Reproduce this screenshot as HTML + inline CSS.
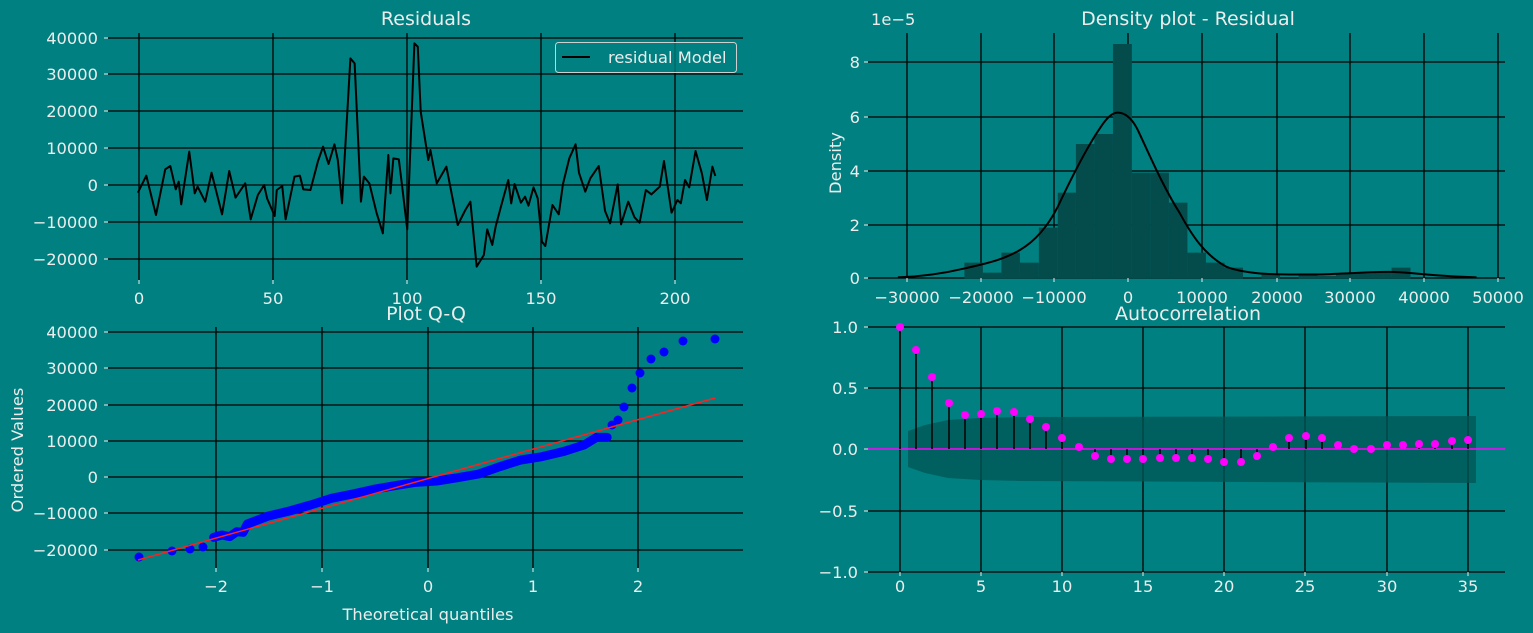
<!DOCTYPE html>
<html><head><meta charset="utf-8"><style>
html,body{margin:0;padding:0;background:#008080;}
svg{display:block;font-family:"DejaVu Sans","Liberation Sans",sans-serif;}
text{fill:#ececec;font-size:16.3px;}
.t{font-size:19px;}
.g{stroke:#000;stroke-width:1.3;}
.tk{stroke:#ececec;stroke-width:1;}
</style></head><body>
<svg width="1533" height="633" viewBox="0 0 1533 633">
<rect width="1533" height="633" fill="#008080"/>

<!-- ========== Residuals ========== -->
<g class="g">
<line x1="108" x2="743" y1="38" y2="38"/><line x1="108" x2="743" y1="74" y2="74"/><line x1="108" x2="743" y1="111" y2="111"/><line x1="108" x2="743" y1="148" y2="148"/><line x1="108" x2="743" y1="185" y2="185"/><line x1="108" x2="743" y1="222" y2="222"/><line x1="108" x2="743" y1="259" y2="259"/>
<line x1="139" x2="139" y1="33" y2="280"/><line x1="273" x2="273" y1="33" y2="280"/><line x1="407" x2="407" y1="33" y2="280"/><line x1="541" x2="541" y1="33" y2="280"/><line x1="675" x2="675" y1="33" y2="280"/>
</g>
<g class="tk">
<line x1="104" x2="108" y1="38" y2="38"/><line x1="104" x2="108" y1="74" y2="74"/><line x1="104" x2="108" y1="111" y2="111"/><line x1="104" x2="108" y1="148" y2="148"/><line x1="104" x2="108" y1="185" y2="185"/><line x1="104" x2="108" y1="222" y2="222"/><line x1="104" x2="108" y1="259" y2="259"/>
<line x1="139" x2="139" y1="280" y2="284"/><line x1="273" x2="273" y1="280" y2="284"/><line x1="407" x2="407" y1="280" y2="284"/><line x1="541" x2="541" y1="280" y2="284"/><line x1="675" x2="675" y1="280" y2="284"/>
</g>
<g text-anchor="end">
<text x="98" y="44">40000</text><text x="98" y="80">30000</text><text x="98" y="117">20000</text><text x="98" y="154">10000</text><text x="98" y="191">0</text><text x="98" y="228">−10000</text><text x="98" y="265">−20000</text>
</g>
<g text-anchor="middle">
<text x="139" y="304">0</text><text x="273" y="304">50</text><text x="407" y="304">100</text><text x="541" y="304">150</text><text x="675" y="304">200</text>
<text class="t" x="426" y="25">Residuals</text>
</g>
<g transform="translate(100,30) scale(0.42088,0.33333)">
<polyline fill="none" stroke="#000" stroke-width="2" vector-effect="non-scaling-stroke" stroke-linejoin="round" points="90,488 110,437 133,555 155,418 167,408 180,478 187,455 193,523 212,365 225,490 232,470 250,515 265,428 290,553 307,423 322,503 345,460 358,568 375,495 390,465 397,505 415,558 420,480 433,468 441,568 462,440 475,437 483,478 500,480 518,393 530,350 543,402 557,343 565,390 575,520 595,85 605,100 620,515 627,440 640,460 657,548 672,610 685,375 690,490 697,385 710,388 718,470 730,598 747,40 755,50 762,245 780,390 785,360 800,460 823,410 850,585 868,540 880,515 895,710 912,675 920,598 932,645 940,590 952,533 970,450 977,520 985,462 1000,518 1010,500 1018,527 1030,472 1040,505 1050,635 1058,648 1075,525 1090,553 1100,462 1115,385 1130,343 1138,428 1153,485 1165,445 1185,408 1200,543 1212,580 1230,463 1238,583 1255,515 1270,562 1282,578 1297,480 1310,493 1330,470 1340,393 1358,548 1372,510 1380,520 1390,450 1400,472 1415,363 1430,430 1442,510 1455,410 1462,438"/>
</g>
<rect x="555.5" y="42.5" width="181" height="30" rx="3" fill="#008080" fill-opacity="0.8" stroke="#cfcfcf" stroke-width="1"/>
<line x1="562" x2="590" y1="57" y2="57" stroke="#000" stroke-width="2"/>
<text x="608" y="63">residual Model</text>

<!-- ========== Density ========== -->
<g class="g">
<line x1="868" x2="1505" y1="62" y2="62"/><line x1="868" x2="1505" y1="117" y2="117"/><line x1="868" x2="1505" y1="171" y2="171"/><line x1="868" x2="1505" y1="225" y2="225"/><line x1="868" x2="1505" y1="278" y2="278"/>
<line x1="907" x2="907" y1="33" y2="278"/><line x1="981" x2="981" y1="33" y2="278"/><line x1="1054" x2="1054" y1="33" y2="278"/><line x1="1128" x2="1128" y1="33" y2="278"/><line x1="1202" x2="1202" y1="33" y2="278"/><line x1="1277" x2="1277" y1="33" y2="278"/><line x1="1350" x2="1350" y1="33" y2="278"/><line x1="1424" x2="1424" y1="33" y2="278"/><line x1="1498" x2="1498" y1="33" y2="278"/>
</g>
<g transform="translate(860,30) scale(0.42088,0.33333)" fill="#044c4c">
<rect x="248" y="698" width="44" height="47"/><rect x="292" y="728" width="44" height="17"/><rect x="336" y="668" width="44" height="77"/><rect x="380" y="698" width="45" height="47"/><rect x="425" y="593" width="45" height="152"/><rect x="470" y="488" width="43" height="257"/><rect x="513" y="342" width="44" height="403"/><rect x="557" y="312" width="44" height="433"/><rect x="601" y="42" width="45" height="703"/><rect x="646" y="428" width="44" height="317"/><rect x="690" y="428" width="44" height="317"/><rect x="734" y="518" width="44" height="227"/><rect x="778" y="668" width="44" height="77"/><rect x="822" y="698" width="44" height="47"/><rect x="866" y="713" width="44" height="32"/><rect x="954" y="733" width="44" height="12"/><rect x="1042" y="730" width="45" height="15"/><rect x="1087" y="738" width="44" height="7"/><rect x="1131" y="730" width="44" height="15"/><rect x="1175" y="730" width="44" height="15"/><rect x="1219" y="728" width="44" height="17"/><rect x="1263" y="713" width="45" height="32"/>
<path fill="none" stroke="#000" stroke-width="2" vector-effect="non-scaling-stroke" d="M90,742 C150,740 200,730 250,715 C300,700 340,690 380,660 C420,630 450,580 470,530 C500,450 540,350 570,295 C585,265 600,248 612,248 C628,248 645,262 660,300 C690,380 720,470 760,550 C790,620 820,675 870,710 C920,735 1000,735 1100,733 C1180,730 1230,724 1270,726 C1320,729 1380,740 1465,742"/>
</g>
<g class="tk">
<line x1="864" x2="868" y1="62" y2="62"/><line x1="864" x2="868" y1="117" y2="117"/><line x1="864" x2="868" y1="171" y2="171"/><line x1="864" x2="868" y1="225" y2="225"/><line x1="864" x2="868" y1="278" y2="278"/>
<line x1="907" x2="907" y1="278" y2="282"/><line x1="981" x2="981" y1="278" y2="282"/><line x1="1054" x2="1054" y1="278" y2="282"/><line x1="1128" x2="1128" y1="278" y2="282"/><line x1="1202" x2="1202" y1="278" y2="282"/><line x1="1277" x2="1277" y1="278" y2="282"/><line x1="1350" x2="1350" y1="278" y2="282"/><line x1="1424" x2="1424" y1="278" y2="282"/><line x1="1498" x2="1498" y1="278" y2="282"/>
</g>
<g text-anchor="end">
<text x="860" y="68">8</text><text x="860" y="123">6</text><text x="860" y="177">4</text><text x="860" y="231">2</text><text x="860" y="284">0</text>
</g>
<text x="871" y="25">1e−5</text>
<text transform="translate(841,163) rotate(-90)" text-anchor="middle">Density</text>
<g text-anchor="middle">
<text x="907" y="303">−30000</text><text x="981" y="303">−20000</text><text x="1054" y="303">−10000</text><text x="1128" y="303">0</text><text x="1202" y="303">10000</text><text x="1277" y="303">20000</text><text x="1350" y="303">30000</text><text x="1424" y="303">40000</text><text x="1498" y="303">50000</text>
<text class="t" x="1188" y="25">Density plot - Residual</text>
</g>

<!-- ========== Q-Q ========== -->
<g class="g">
<line x1="108" x2="743" y1="332" y2="332"/><line x1="108" x2="743" y1="368" y2="368"/><line x1="108" x2="743" y1="405" y2="405"/><line x1="108" x2="743" y1="441" y2="441"/><line x1="108" x2="743" y1="477" y2="477"/><line x1="108" x2="743" y1="513" y2="513"/><line x1="108" x2="743" y1="550" y2="550"/>
<line x1="216" x2="216" y1="327" y2="568"/><line x1="322" x2="322" y1="327" y2="568"/><line x1="428" x2="428" y1="327" y2="568"/><line x1="533" x2="533" y1="327" y2="568"/><line x1="638" x2="638" y1="327" y2="568"/>
</g>
<g class="tk">
<line x1="104" x2="108" y1="332" y2="332"/><line x1="104" x2="108" y1="368" y2="368"/><line x1="104" x2="108" y1="405" y2="405"/><line x1="104" x2="108" y1="441" y2="441"/><line x1="104" x2="108" y1="477" y2="477"/><line x1="104" x2="108" y1="513" y2="513"/><line x1="104" x2="108" y1="550" y2="550"/>
<line x1="216" x2="216" y1="568" y2="572"/><line x1="322" x2="322" y1="568" y2="572"/><line x1="428" x2="428" y1="568" y2="572"/><line x1="533" x2="533" y1="568" y2="572"/><line x1="638" x2="638" y1="568" y2="572"/>
</g>
<g transform="translate(100,320) scale(0.42088,0.33333)">
<polyline fill="none" stroke="#0000ff" stroke-width="9" vector-effect="non-scaling-stroke" stroke-linecap="round" stroke-linejoin="round" points="270,652 290,645 308,650 325,635 340,637 350,612 400,588 450,573 500,555 550,535 600,522 650,508 700,497 750,487 800,483 850,473 900,462 950,440 1000,420 1050,410 1100,395 1150,375 1180,352 1205,352"/>
</g>
<g fill="#0000ff">
<ellipse cx="139" cy="557" rx="4.5" ry="4.5"/><ellipse cx="172" cy="551" rx="4.5" ry="4.5"/><ellipse cx="190" cy="549" rx="4.5" ry="4.5"/><ellipse cx="203" cy="547" rx="4.5" ry="4.5"/>
<ellipse cx="612" cy="425" rx="4.5" ry="4.5"/><ellipse cx="618" cy="420" rx="4.5" ry="4.5"/><ellipse cx="624" cy="407" rx="4.5" ry="4.5"/><ellipse cx="632" cy="388" rx="4.5" ry="4.5"/><ellipse cx="640" cy="373" rx="4.5" ry="4.5"/><ellipse cx="651" cy="359" rx="4.5" ry="4.5"/><ellipse cx="664" cy="352" rx="4.5" ry="4.5"/><ellipse cx="683" cy="341" rx="4.5" ry="4.5"/><ellipse cx="715" cy="339" rx="4.5" ry="4.5"/>
</g>
<line x1="138" y1="560" x2="715" y2="398" stroke="#ff2020" stroke-width="1.5"/>
<g text-anchor="end">
<text x="98" y="338">40000</text><text x="98" y="374">30000</text><text x="98" y="411">20000</text><text x="98" y="447">10000</text><text x="98" y="483">0</text><text x="98" y="519">−10000</text><text x="98" y="556">−20000</text>
</g>
<g text-anchor="middle">
<text x="216" y="592">−2</text><text x="322" y="592">−1</text><text x="428" y="592">0</text><text x="533" y="592">1</text><text x="638" y="592">2</text>
<text x="428" y="620">Theoretical quantiles</text>
<text class="t" x="426" y="320">Plot Q-Q</text>
</g>
<text transform="translate(23,450) rotate(-90)" text-anchor="middle">Ordered Values</text>

<!-- ========== ACF ========== -->
<g class="g">
<line x1="868" x2="1505" y1="327" y2="327"/><line x1="868" x2="1505" y1="388" y2="388"/><line x1="868" x2="1505" y1="511" y2="511"/><line x1="868" x2="1505" y1="572" y2="572"/>
<line x1="900" x2="900" y1="327" y2="572"/><line x1="981" x2="981" y1="327" y2="572"/><line x1="1062" x2="1062" y1="327" y2="572"/><line x1="1143" x2="1143" y1="327" y2="572"/><line x1="1224" x2="1224" y1="327" y2="572"/><line x1="1305" x2="1305" y1="327" y2="572"/><line x1="1387" x2="1387" y1="327" y2="572"/><line x1="1468" x2="1468" y1="327" y2="572"/>
</g>
<path d="M908,431 L925,425 L948,420 L980,418 L1020,417 L1476,416 L1476,483 L1020,481 L980,480 L948,478 L925,473 L908,467 Z" fill="#005555" fill-opacity="0.75"/>
<line x1="868" x2="1505" y1="449" y2="449" stroke="#ff00ff" stroke-width="1.6"/>
<g stroke="#000" stroke-width="1.5">
<line x1="900" x2="900" y1="449" y2="327"/><line x1="916" x2="916" y1="449" y2="350"/><line x1="932" x2="932" y1="449" y2="377"/><line x1="949" x2="949" y1="449" y2="403"/><line x1="965" x2="965" y1="449" y2="415"/><line x1="981" x2="981" y1="449" y2="414"/><line x1="997" x2="997" y1="449" y2="411"/><line x1="1014" x2="1014" y1="449" y2="412"/><line x1="1030" x2="1030" y1="449" y2="419"/><line x1="1046" x2="1046" y1="449" y2="427"/><line x1="1062" x2="1062" y1="449" y2="438"/><line x1="1079" x2="1079" y1="449" y2="447"/><line x1="1095" x2="1095" y1="449" y2="456"/><line x1="1111" x2="1111" y1="449" y2="459"/><line x1="1127" x2="1127" y1="449" y2="459"/><line x1="1143" x2="1143" y1="449" y2="459"/><line x1="1160" x2="1160" y1="449" y2="458"/><line x1="1176" x2="1176" y1="449" y2="458"/><line x1="1192" x2="1192" y1="449" y2="458"/><line x1="1208" x2="1208" y1="449" y2="459"/><line x1="1224" x2="1224" y1="449" y2="462"/><line x1="1241" x2="1241" y1="449" y2="462"/><line x1="1257" x2="1257" y1="449" y2="456"/><line x1="1273" x2="1273" y1="449" y2="447"/><line x1="1289" x2="1289" y1="449" y2="438"/><line x1="1306" x2="1306" y1="449" y2="436"/><line x1="1322" x2="1322" y1="449" y2="438"/><line x1="1338" x2="1338" y1="449" y2="445"/><line x1="1354" x2="1354" y1="449" y2="449"/><line x1="1371" x2="1371" y1="449" y2="449"/><line x1="1387" x2="1387" y1="449" y2="445"/><line x1="1403" x2="1403" y1="449" y2="445"/><line x1="1419" x2="1419" y1="449" y2="444"/><line x1="1435" x2="1435" y1="449" y2="444"/><line x1="1452" x2="1452" y1="449" y2="441"/><line x1="1468" x2="1468" y1="449" y2="440"/>
</g>
<g fill="#ff00ff">
<circle cx="900" cy="327" r="4"/><circle cx="916" cy="350" r="4"/><circle cx="932" cy="377" r="4"/><circle cx="949" cy="403" r="4"/><circle cx="965" cy="415" r="4"/><circle cx="981" cy="414" r="4"/><circle cx="997" cy="411" r="4"/><circle cx="1014" cy="412" r="4"/><circle cx="1030" cy="419" r="4"/><circle cx="1046" cy="427" r="4"/><circle cx="1062" cy="438" r="4"/><circle cx="1079" cy="447" r="4"/><circle cx="1095" cy="456" r="4"/><circle cx="1111" cy="459" r="4"/><circle cx="1127" cy="459" r="4"/><circle cx="1143" cy="459" r="4"/><circle cx="1160" cy="458" r="4"/><circle cx="1176" cy="458" r="4"/><circle cx="1192" cy="458" r="4"/><circle cx="1208" cy="459" r="4"/><circle cx="1224" cy="462" r="4"/><circle cx="1241" cy="462" r="4"/><circle cx="1257" cy="456" r="4"/><circle cx="1273" cy="447" r="4"/><circle cx="1289" cy="438" r="4"/><circle cx="1306" cy="436" r="4"/><circle cx="1322" cy="438" r="4"/><circle cx="1338" cy="445" r="4"/><circle cx="1354" cy="449" r="4"/><circle cx="1371" cy="449" r="4"/><circle cx="1387" cy="445" r="4"/><circle cx="1403" cy="445" r="4"/><circle cx="1419" cy="444" r="4"/><circle cx="1435" cy="444" r="4"/><circle cx="1452" cy="441" r="4"/><circle cx="1468" cy="440" r="4"/>
</g>
<g class="tk">
<line x1="864" x2="868" y1="327" y2="327"/><line x1="864" x2="868" y1="388" y2="388"/><line x1="864" x2="868" y1="449" y2="449"/><line x1="864" x2="868" y1="511" y2="511"/><line x1="864" x2="868" y1="572" y2="572"/>
<line x1="900" x2="900" y1="572" y2="576"/><line x1="981" x2="981" y1="572" y2="576"/><line x1="1062" x2="1062" y1="572" y2="576"/><line x1="1143" x2="1143" y1="572" y2="576"/><line x1="1224" x2="1224" y1="572" y2="576"/><line x1="1305" x2="1305" y1="572" y2="576"/><line x1="1387" x2="1387" y1="572" y2="576"/><line x1="1468" x2="1468" y1="572" y2="576"/>
</g>
<g text-anchor="end">
<text x="858" y="333">1.0</text><text x="858" y="394">0.5</text><text x="858" y="455">0.0</text><text x="858" y="517">−0.5</text><text x="858" y="578">−1.0</text>
</g>
<g text-anchor="middle">
<text x="900" y="592">0</text><text x="981" y="592">5</text><text x="1062" y="592">10</text><text x="1143" y="592">15</text><text x="1224" y="592">20</text><text x="1305" y="592">25</text><text x="1387" y="592">30</text><text x="1468" y="592">35</text>
<text class="t" x="1188" y="320">Autocorrelation</text>
</g>
</svg>
</body></html>
